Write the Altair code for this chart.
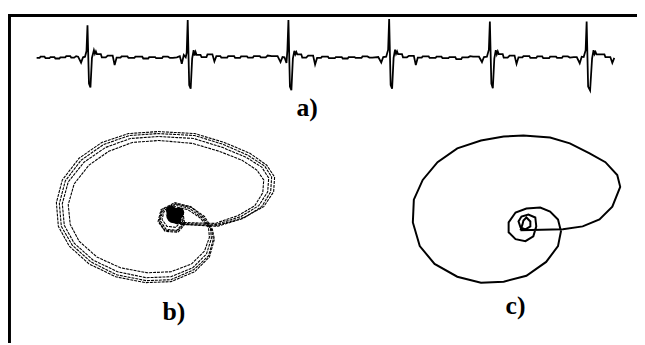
import altair as alt
import pandas as pd

# ---------------- data ----------------
# a) ECG trace: (time in s, amplitude in mV)
ecg_samples = [
    (0.00, 0.02), (0.03, 0.02), (0.04, 0.06), (0.08, 0.06), (0.09, 0.01), (0.13, 0.01), (0.14, 0.05),
    (0.18, 0.05), (0.19, 0.00), (0.23, 0.00), (0.24, 0.04), (0.29, 0.04), (0.30, 0.08), (0.34, 0.08),
    (0.35, 0.03), (0.38, 0.03), (0.40, 0.08),
    # beat 1
    (0.42, 0.06), (0.45, -0.14), (0.47, 0.04), (0.49, 0.06), (0.505, 0.25), (0.515, 1.12), (0.53, -0.85),
    (0.545, -0.98), (0.56, 0.02), (0.58, 0.28), (0.59, 0.16), (0.60, 0.24), (0.61, 0.15), (0.65, 0.15),
    (0.66, 0.04), (0.70, 0.04), (0.72, 0.10), (0.77, 0.10), (0.79, -0.22), (0.81, 0.03),
    (0.85, 0.03), (0.86, 0.07), (0.92, 0.07), (0.93, 0.02), (0.99, 0.02), (1.00, 0.06), (1.07, 0.06),
    (1.08, 0.00), (1.13, 0.00), (1.14, 0.05), (1.20, 0.05), (1.21, 0.01), (1.27, 0.01), (1.28, 0.06),
    (1.33, 0.06), (1.35, 0.02), (1.38, 0.02),
    # beat 2
    (1.42, 0.04), (1.45, 0.08), (1.47, -0.18), (1.49, 0.12), (1.51, 0.04), (1.52, 0.20), (1.53, 1.30),
    (1.545, -0.90), (1.56, -1.02), (1.575, 0.00), (1.59, 0.28), (1.60, 0.10), (1.61, 0.22), (1.62, 0.12),
    (1.66, 0.12), (1.67, 0.05), (1.72, 0.05), (1.73, 0.14), (1.78, 0.14), (1.80, -0.10), (1.82, 0.08),
    (1.86, 0.08), (1.87, 0.03), (1.93, 0.03), (1.94, 0.08), (2.00, 0.08), (2.01, 0.02), (2.06, 0.02),
    (2.07, 0.07), (2.13, 0.07), (2.14, 0.03), (2.19, 0.03), (2.20, 0.08), (2.26, 0.08), (2.27, 0.04),
    (2.32, 0.04), (2.34, 0.10), (2.38, 0.08),
    # beat 3
    (2.44, 0.08), (2.47, -0.12), (2.49, 0.05), (2.51, 0.04), (2.53, -0.15), (2.54, 0.30), (2.55, 1.30),
    (2.565, -0.95), (2.58, -1.07), (2.595, 0.00), (2.61, 0.26), (2.62, 0.14), (2.63, 0.22), (2.64, 0.14),
    (2.68, 0.14), (2.69, 0.03), (2.73, 0.03), (2.75, 0.10), (2.80, 0.10), (2.82, -0.20), (2.84, 0.02),
    (2.88, 0.02), (2.89, 0.06), (2.95, 0.06), (2.96, 0.01), (3.02, 0.01), (3.03, 0.05), (3.09, 0.05),
    (3.10, 0.00), (3.15, 0.00), (3.16, 0.05), (3.22, 0.05), (3.23, 0.02), (3.29, 0.02), (3.30, 0.07),
    (3.35, 0.07), (3.37, 0.03), (3.40, 0.03),
    # beat 4
    (3.46, 0.05), (3.49, -0.14), (3.51, 0.05), (3.54, 0.06), (3.56, 0.30), (3.57, 1.33), (3.585, -0.90),
    (3.60, -1.02), (3.615, 0.02), (3.63, 0.30), (3.64, 0.16), (3.65, 0.24), (3.66, 0.15), (3.70, 0.15),
    (3.71, 0.04), (3.75, 0.04), (3.77, 0.09), (3.82, 0.09), (3.84, -0.22), (3.86, 0.03),
    (3.90, 0.03), (3.91, 0.07), (3.97, 0.07), (3.98, 0.02), (4.04, 0.02), (4.05, 0.06), (4.10, 0.06),
    (4.11, 0.01), (4.17, 0.01), (4.18, 0.05), (4.24, 0.05), (4.25, -0.02), (4.30, -0.02), (4.31, 0.04),
    (4.37, 0.04), (4.39, 0.08), (4.42, 0.06),
    # beat 5
    (4.48, 0.06), (4.51, -0.12), (4.53, 0.05), (4.56, 0.06), (4.58, 0.30), (4.59, 1.25), (4.605, -0.85),
    (4.62, -1.00), (4.635, 0.00), (4.65, 0.28), (4.66, 0.14), (4.67, 0.24), (4.68, 0.15), (4.72, 0.15),
    (4.73, 0.03), (4.77, 0.03), (4.79, 0.10), (4.84, 0.10), (4.86, -0.18), (4.88, 0.04),
    (4.92, 0.04), (4.93, 0.08), (4.99, 0.08), (5.00, 0.02), (5.06, 0.02), (5.07, 0.07), (5.12, 0.07),
    (5.13, 0.01), (5.19, 0.01), (5.20, 0.06), (5.26, 0.06), (5.27, 0.02), (5.32, 0.02), (5.33, 0.07),
    (5.38, 0.07), (5.40, 0.03), (5.44, 0.05),
    # beat 6
    (5.47, 0.05), (5.50, -0.16), (5.52, 0.06), (5.54, 0.05), (5.56, 0.28), (5.57, 1.25), (5.585, -0.95),
    (5.605, -1.08), (5.625, 0.00), (5.64, 0.28), (5.65, 0.15), (5.66, 0.22), (5.67, 0.14), (5.75, 0.14),
    (5.76, 0.05), (5.81, 0.05), (5.83, -0.15), (5.85, 0.02),
]

# b) phase-space trajectories of several beats: (x(t), x(t+tau))
b_loop1 = [
    (0.04, -0.02), (0.10, -0.10), (0.47, -0.11), (0.74, -0.03), (0.94, 0.08), (1.04, 0.23), (1.05, 0.38),
    (0.97, 0.50), (0.80, 0.62), (0.54, 0.73), (0.24, 0.82), (-0.13, 0.84), (-0.43, 0.82), (-0.70, 0.73),
    (-0.93, 0.57), (-1.10, 0.35), (-1.16, 0.12), (-1.14, -0.12), (-1.03, -0.32), (-0.83, -0.50),
    (-0.56, -0.63), (-0.26, -0.69), (0.00, -0.68), (0.24, -0.58), (0.39, -0.43), (0.44, -0.25),
    (0.42, -0.15), (0.34, -0.02), (0.20, 0.08), (0.04, 0.12), (-0.10, 0.05), (-0.13, -0.07),
    (-0.06, -0.17), (0.07, -0.18), (0.14, -0.10), (0.12, 0.03), (0.02, 0.07), (-0.05, 0.00),
]
b_loop2 = [
    (0.09, -0.08), (0.45, -0.09), (0.68, -0.01), (0.85, 0.09), (0.93, 0.22), (0.94, 0.35), (0.87, 0.45),
    (0.72, 0.55), (0.49, 0.64), (0.22, 0.72), (-0.12, 0.75), (-0.39, 0.73), (-0.63, 0.64), (-0.83, 0.50),
    (-0.98, 0.31), (-1.04, 0.10), (-1.02, -0.10), (-0.93, -0.27), (-0.75, -0.43), (-0.51, -0.54),
    (-0.24, -0.59), (0.00, -0.58), (0.21, -0.50), (0.34, -0.37), (0.39, -0.23), (0.38, -0.13),
    (0.29, -0.03), (0.17, 0.05), (0.04, 0.08), (-0.07, 0.03), (-0.09, -0.05), (-0.04, -0.12),
    (0.05, -0.13), (0.10, -0.07), (0.08, 0.01), (0.02, 0.04), (-0.02, 0.00),
]
b_loop3 = [
    (0.08, -0.09), (0.46, -0.10), (0.71, -0.02), (0.89, 0.09), (0.98, 0.23), (0.99, 0.37), (0.92, 0.48),
    (0.76, 0.58), (0.52, 0.68), (0.23, 0.77), (-0.12, 0.79), (-0.41, 0.77), (-0.66, 0.68), (-0.88, 0.53),
    (-1.04, 0.33), (-1.10, 0.11), (-1.08, -0.11), (-0.98, -0.29), (-0.79, -0.46), (-0.54, -0.58),
    (-0.25, -0.64), (0.00, -0.63), (0.22, -0.54), (0.36, -0.40), (0.41, -0.24), (0.40, -0.14),
    (0.31, -0.03), (0.19, 0.06), (0.05, 0.10), (-0.08, 0.04), (-0.11, -0.06), (-0.05, -0.15),
    (0.06, -0.16), (0.12, -0.09), (0.10, 0.02), (0.02, 0.05), (-0.03, 0.00),
]
b_loop4 = [
    (0.11, -0.10), (0.47, -0.12), (0.73, -0.04), (0.92, 0.08), (1.01, 0.23), (1.02, 0.38), (0.95, 0.49),
    (0.78, 0.60), (0.53, 0.71), (0.24, 0.80), (-0.13, 0.82), (-0.42, 0.80), (-0.68, 0.71), (-0.91, 0.55),
    (-1.07, 0.34), (-1.13, 0.11), (-1.11, -0.12), (-1.00, -0.31), (-0.81, -0.48), (-0.55, -0.61),
    (-0.25, -0.67), (0.00, -0.66), (0.23, -0.56), (0.38, -0.42), (0.43, -0.25), (0.41, -0.15),
    (0.33, -0.03), (0.21, 0.07), (0.05, 0.11), (-0.09, 0.05), (-0.12, -0.07), (-0.06, -0.16),
    (0.06, -0.17), (0.13, -0.10), (0.11, 0.03), (0.02, 0.06), (-0.04, 0.01),
]
b_core = [(0.03, -0.01), (0.08, 0.02), (0.00, 0.04), (0.06, -0.05)]
b_core_size = [240, 120, 100, 90]

# c) single averaged trajectory
c_path = [
    (-0.03, -0.09), (0.40, -0.08), (0.60, -0.05), (0.77, 0.02), (0.90, 0.15), (0.98, 0.35), (0.95, 0.47),
    (0.83, 0.60), (0.67, 0.69), (0.47, 0.79), (0.27, 0.85), (0.00, 0.87), (-0.20, 0.86), (-0.43, 0.82),
    (-0.67, 0.74), (-0.87, 0.60), (-1.02, 0.42), (-1.11, 0.22), (-1.12, -0.01), (-1.05, -0.25),
    (-0.90, -0.43), (-0.67, -0.56), (-0.43, -0.62), (-0.20, -0.61), (0.03, -0.55), (0.23, -0.41),
    (0.35, -0.25), (0.38, -0.10), (0.35, 0.02), (0.27, 0.10), (0.17, 0.14), (0.03, 0.13), (-0.08, 0.09),
    (-0.15, -0.01), (-0.15, -0.11), (-0.08, -0.18), (0.02, -0.20), (0.10, -0.15), (0.13, -0.05),
    (0.12, 0.04), (0.05, 0.07), (-0.02, 0.05), (-0.05, 0.00), (-0.03, -0.06), (0.02, -0.08),
    (0.07, -0.05), (0.07, 0.00), (0.03, 0.04), (0.00, 0.01), (-0.01, -0.03), (-0.03, -0.09),
]

labels = ["a)", "b)", "c)"]

# ---------------- build tables ----------------
W, H = 637, 337

ecg_df = pd.DataFrame([{"i": k, "t": t, "mv": v} for k, (t, v) in enumerate(ecg_samples)])
b_rows = []
for name, loop in [("1", b_loop1), ("2", b_loop2), ("3", b_loop3), ("4", b_loop4)]:
    for k, (u, v) in enumerate(loop):
        b_rows.append({"loop": name, "i": k, "u": u, "v": v})
b_df = pd.DataFrame(b_rows)
core_df = pd.DataFrame([{"u": u, "v": v, "s": s} for (u, v), s in zip(b_core, b_core_size)])
c_df = pd.DataFrame([{"i": k, "u": u, "v": v} for k, (u, v) in enumerate(c_path)])
one = pd.DataFrame({"k": [0]})


def sc(lo, hi, r0, r1):
    return alt.Scale(domain=[lo, hi], range=[r0, r1], nice=False, zero=False)


ecg_x = sc(0, 5.85, 29, 614)
ecg_y = sc(-1, 1, 79, 19)
b_x = sc(-1, 1, 65, 265)
b_y = sc(-1, 1, 307, 107)
c_x = sc(-1, 1, 422, 622)
c_y = sc(-1, 1, 314, 114)

ecg = alt.Chart(ecg_df).mark_line(color="black", strokeWidth=1.8).encode(
    x=alt.X("t:Q", scale=ecg_x, axis=None),
    y=alt.Y("mv:Q", scale=ecg_y, axis=None),
    order="i:Q",
)

b_lines = alt.Chart(b_df).mark_line(color="#000000", strokeWidth=1.1, strokeDash=[3, 1]).encode(
    x=alt.X("u:Q", scale=b_x, axis=None),
    y=alt.Y("v:Q", scale=b_y, axis=None),
    detail="loop:N",
    order="i:Q",
)

b_core_mark = alt.Chart(core_df).mark_circle(color="black", opacity=1).encode(
    x=alt.X("u:Q", scale=b_x, axis=None),
    y=alt.Y("v:Q", scale=b_y, axis=None),
    size=alt.Size("s:Q", scale=None, legend=None),
)

c_line = alt.Chart(c_df).mark_line(color="black", strokeWidth=2).encode(
    x=alt.X("u:Q", scale=c_x, axis=None),
    y=alt.Y("v:Q", scale=c_y, axis=None),
    order="i:Q",
)

top_border = alt.Chart(one).mark_rule(color="black", strokeWidth=3).encode(
    x=alt.value(0), x2=alt.value(W), y=alt.value(5.5)
)
left_border = alt.Chart(one).mark_rule(color="black", strokeWidth=3).encode(
    x=alt.value(1.5), y=alt.value(4), y2=alt.value(H)
)


def label(txt, px, py):
    return alt.Chart(one).mark_text(
        font="Liberation Serif", fontWeight="bold", fontSize=26, color="black",
        align="center", baseline="middle"
    ).encode(x=alt.value(px), y=alt.value(py), text=alt.value(txt))


chart = alt.layer(
    ecg, b_lines, b_core_mark, c_line, top_border, left_border,
    label(labels[0], 303, 99), label(labels[1], 168, 306), label(labels[2], 514, 300),
).resolve_scale(x="independent", y="independent").properties(
    width=W, height=H, padding=0, autosize=alt.AutoSizeParams(type="none"), background="white"
).configure_view(stroke=None)

chart.save("out.html", embed_options={"renderer": "svg", "actions": False})
